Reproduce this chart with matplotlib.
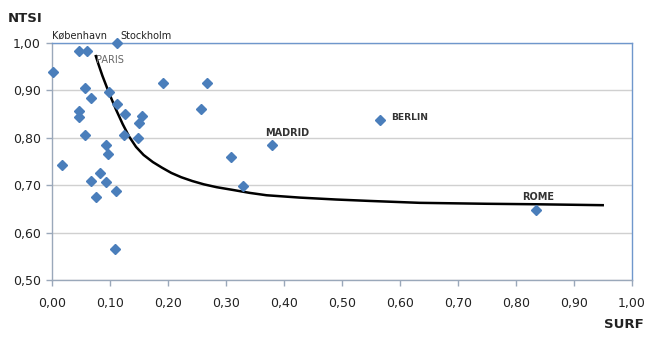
import matplotlib
matplotlib.use("Agg")
import matplotlib.pyplot as plt
from matplotlib.ticker import FuncFormatter, MultipleLocator

# Data
surf = [0.002, 0.017, 0.047, 0.060, 0.113, 0.046, 0.046, 0.057, 0.067, 0.057,
        0.098, 0.113, 0.126, 0.156, 0.150, 0.124, 0.149, 0.093, 0.096, 0.083,
        0.067, 0.094, 0.110, 0.076, 0.109, 0.192, 0.267, 0.257, 0.308, 0.330,
        0.380, 0.566, 0.834]
ntsi = [0.940, 0.743, 0.984, 0.984, 1.000, 0.856, 0.845, 0.906, 0.885, 0.807,
        0.897, 0.871, 0.850, 0.847, 0.831, 0.807, 0.800, 0.786, 0.767, 0.726,
        0.709, 0.707, 0.688, 0.675, 0.565, 0.915, 0.915, 0.862, 0.760, 0.699,
        0.786, 0.838, 0.648]

# Trend curve
trend_x = [0.075, 0.080, 0.087, 0.099, 0.110, 0.122, 0.133, 0.145, 0.158,
           0.174, 0.190, 0.206, 0.223, 0.242, 0.262, 0.284, 0.313, 0.341,
           0.370, 0.428, 0.490, 0.548, 0.634, 0.750, 0.834, 0.952]
trend_y = [0.975, 0.956, 0.931, 0.893, 0.861, 0.829, 0.803, 0.781, 0.764,
           0.749, 0.737, 0.726, 0.717, 0.709, 0.702, 0.696, 0.690, 0.684,
           0.679, 0.674, 0.670, 0.667, 0.663, 0.661, 0.660, 0.658]

labels = [("København", 0.0, 1.0, "left", "normal", "#222222"),
          ("Stockholm", 0.113, 1.0, "left", "normal", "#222222"),
          ("PARIS", 0.076, 0.968, "left", "normal", "#666666"),
          ("MADRID", 0.380, 0.786, "left", "bold", "#333333"),
          ("BERLIN", 0.566, 0.838, "left", "bold", "#333333"),
          ("ROME", 0.834, 0.648, "center", "bold", "#333333")]

fig = plt.figure(figsize=(6.48, 3.42), dpi=100)
ax = fig.add_axes([0.0802, 0.181, 0.8948, 0.693])

ax.set_xlim(0, 1.0)
ax.set_ylim(0.5, 1.0)
ax.xaxis.set_major_locator(MultipleLocator(0.1))
ax.yaxis.set_major_locator(MultipleLocator(0.1))
fmt = FuncFormatter(lambda v, p: f"{v:.2f}".replace(".", ","))
ax.xaxis.set_major_formatter(fmt)
ax.yaxis.set_major_formatter(fmt)
ax.grid(axis="y", color="#D0D0D0", linewidth=1.0)
ax.set_axisbelow(True)
for s in ax.spines.values():
    s.set_color("#6F97CC")
    s.set_linewidth(1.0)
ax.spines["left"].set_color("#9AA8BA")
ax.spines["bottom"].set_color("#9AA8BA")
ax.tick_params(axis="both", labelsize=9, colors="#9AA8BA", labelcolor="#222222",
               length=4, width=1)
ax.tick_params(axis="x", pad=8)
ax.tick_params(axis="y", pad=4)

ax.plot(surf, ntsi, linestyle="none", marker="D", markersize=5.5,
        color="#4A7EBB", zorder=3, clip_on=False)
ax.plot(trend_x, trend_y, color="black", linewidth=1.8, zorder=2,
        solid_capstyle="butt", solid_joinstyle="round")

offsets = {"København": (0, 5), "Stockholm": (2, 5), "PARIS": (0, -1),
           "MADRID": (-5, 8), "BERLIN": (8, 2), "ROME": (2, 9)}
for name, x, y, ha, w, c in labels:
    dx, dy = offsets[name]
    fs = 6.6 if name == "BERLIN" else 7
    ax.annotate(name, (x, y), xytext=(dx, dy), textcoords="offset points",
                ha=ha, va="center", fontsize=fs, fontweight=w, color=c,
                annotation_clip=False)

fig.text(0.012, 0.935, "NTSI", fontsize=9.5, fontweight="bold", color="#222222")
fig.text(0.932, 0.04, "SURF", fontsize=9.5, fontweight="bold", color="#222222")

fig.savefig("out.png", dpi=100)
